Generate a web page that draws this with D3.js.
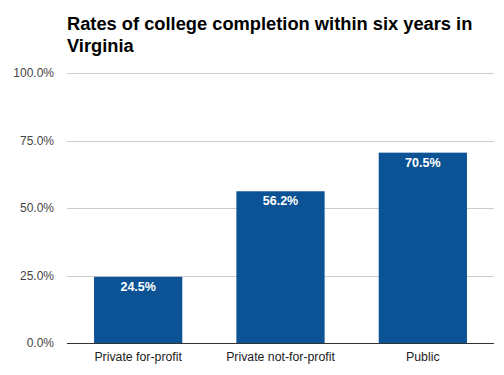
<!DOCTYPE html>
<html lang="en">
<head>
    <meta charset="UTF-8">
    <title>Rates of college completion</title>
    <script src="https://d3js.org/d3.v7.min.js"></script>
    <style>
        body { margin: 0; background: #fff; }
        .title { font: bold 18.3px "Liberation Sans", Arial, sans-serif; fill: #000; }
        .tick-label { font: 12px "Liberation Sans", Arial, sans-serif; fill: #444; }
        .cat-label { font: 12.3px "Liberation Sans", Arial, sans-serif; fill: #222; }
        .grid { stroke: #ccc; stroke-width: 1px; }
        .baseline { stroke: #333; stroke-width: 1px; }
        .bar { fill: #0b5394; }
        .bar-label { font: bold 12.5px "Liberation Sans", Arial, sans-serif; fill: #fff; }
    </style>
</head>
<body>
    <svg width="504" height="375"></svg>

    <script>
        // Chart data
        const categories = ["Private for-profit", "Private not-for-profit", "Public"];
        const rates = [24.5, 56.2, 70.5];
        const yTicks = [0, 25, 50, 75, 100];

        const width = 504;
        const height = 375;
        const plot = { left: 67, right: 494, top: 73, bottom: 343 };

        const svg = d3.select("svg")
            .attr("width", width)
            .attr("height", height);

        // Title
        const title = svg.append("text")
            .attr("class", "title")
            .attr("x", plot.left)
            .attr("y", 30);
        title.append("tspan").attr("x", plot.left).text("Rates of college completion within six years in");
        title.append("tspan").attr("x", plot.left).attr("dy", 22).text("Virginia");

        // Scales
        const x = d3.scaleBand()
            .domain(categories)
            .range([plot.left, plot.right])
            .paddingInner(0.38)
            .paddingOuter(0.19);

        const y = d3.scaleLinear()
            .domain([0, 100])
            .range([plot.bottom, plot.top]);

        // Gridlines + tick labels
        svg.selectAll(".grid")
            .data(yTicks.filter(d => d > 0))
            .enter()
            .append("line")
            .attr("class", "grid")
            .attr("x1", plot.left)
            .attr("x2", plot.right)
            .attr("y1", d => Math.round(y(d)) + 0.5)
            .attr("y2", d => Math.round(y(d)) + 0.5);

        svg.selectAll(".tick-label")
            .data(yTicks)
            .enter()
            .append("text")
            .attr("class", "tick-label")
            .attr("x", 54)
            .attr("y", d => y(d) + 4)
            .attr("text-anchor", "end")
            .text(d => d.toFixed(1) + "%");

        // Bars
        const data = categories.map((c, i) => ({ cat: c, value: rates[i] }));

        svg.selectAll(".bar")
            .data(data)
            .enter()
            .append("rect")
            .attr("class", "bar")
            .attr("x", d => x(d.cat))
            .attr("width", x.bandwidth())
            .attr("y", d => y(d.value))
            .attr("height", d => y(0) - y(d.value));

        svg.selectAll(".bar-label")
            .data(data)
            .enter()
            .append("text")
            .attr("class", "bar-label")
            .attr("x", d => x(d.cat) + x.bandwidth() / 2)
            .attr("y", d => y(d.value) + 14)
            .attr("text-anchor", "middle")
            .text(d => d.value.toFixed(1) + "%");

        // Baseline
        svg.append("line")
            .attr("class", "baseline")
            .attr("x1", plot.left)
            .attr("x2", plot.right)
            .attr("y1", Math.round(y(0)) + 0.5)
            .attr("y2", Math.round(y(0)) + 0.5);

        // Category labels
        svg.selectAll(".cat-label")
            .data(categories)
            .enter()
            .append("text")
            .attr("class", "cat-label")
            .attr("x", d => x(d) + x.bandwidth() / 2)
            .attr("y", 361)
            .attr("text-anchor", "middle")
            .text(d => d);
    </script>
</body>
</html>
